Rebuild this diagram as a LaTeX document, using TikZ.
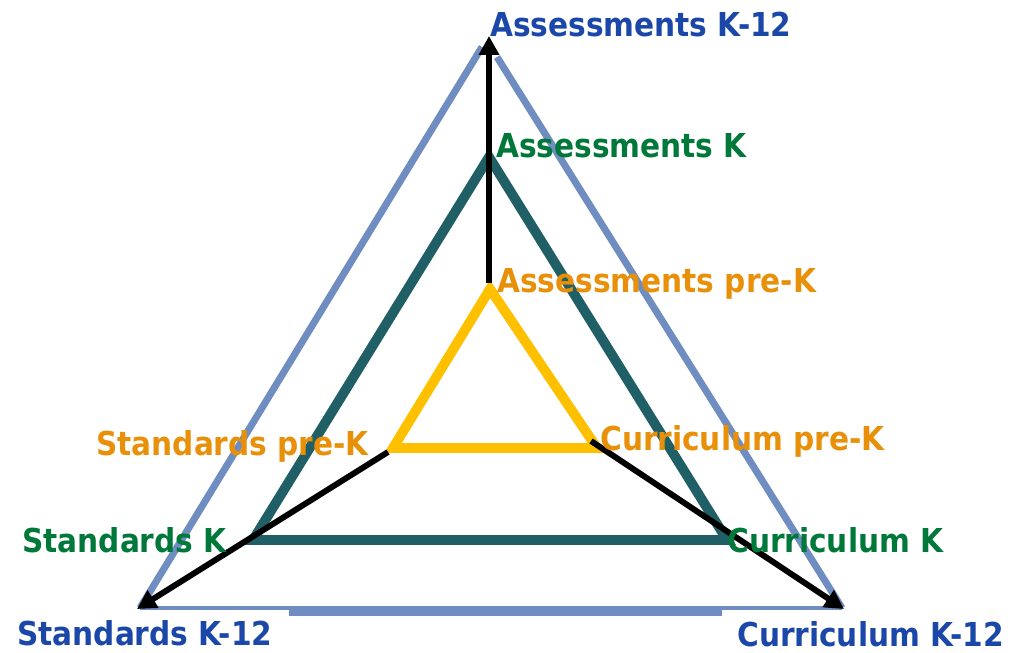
\documentclass[tikz,border=0pt]{standalone}
\usepackage{fontspec}
\setmainfont{DejaVu Sans Condensed}
\usetikzlibrary{arrows.meta}
\definecolor{outerblue}{HTML}{6F8DC0}
\definecolor{midteal}{HTML}{215F66}
\definecolor{inneryellow}{HTML}{FFC000}
\definecolor{textblue}{HTML}{1A47A8}
\definecolor{textgreen}{HTML}{00783A}
\definecolor{textorange}{HTML}{E8900A}
\begin{document}
\begin{tikzpicture}
[x=0.025cm,y=-0.025cm,
  outerdecorate/.style={draw=outerblue,line width=5pt},
  middecorate/.style={draw=midteal,line width=7pt,line join=miter},
  innerdecorate/.style={draw=inneryellow,line width=7pt,line join=miter},
  arrowdecorate/.style={-{Triangle[length=13.5pt,width=14pt]},line width=4.2pt,black},
  labeldecorate/.style={anchor=base west,inner sep=0pt,font=\fontsize{23.4pt}{27pt}\selectfont\bfseries}]
\useasboundingbox (0,0) rectangle (1011,652);
% corners of the triangles
\coordinate (o0l) at (482,47);
\coordinate (o0r) at (497,57);
\coordinate (o1) at (140,608);
\coordinate (o2) at (842,608);
\coordinate (m0) at (489,157);
\coordinate (m1) at (253,540);
\coordinate (m2) at (727,540);
\coordinate (i0) at (490,289);
\coordinate (i1) at (393,448);
\coordinate (i2) at (597,448);
% triangles
\draw[outerdecorate] (o0l) -- (o1);
\draw[outerdecorate] (o2) -- (o0r);
\draw[outerdecorate,line width=3pt] (o1) -- (o2);
\draw[outerdecorate,line width=6.6pt] (289,611.3) -- (722,611.3);
\draw[middecorate] (m0) -- (m1) -- (m2) -- cycle;
\draw[innerdecorate] (i0) -- (i1) -- (i2) -- cycle;
% arrows
\coordinate (a0) at (489,283);
\coordinate (a1) at (388,452);
\coordinate (a2) at (591,441);
\coordinate (t0) at (489,36);
\coordinate (t1) at (137,609);
\coordinate (t2) at (844,609);
\draw[arrowdecorate] (a0) -- (t0);
\draw[arrowdecorate] (a1) -- (t1);
\draw[arrowdecorate] (a2) -- (t2);
% labels
\node (aK12) at (490,36) [labeldecorate,textblue] {Assessments K-12};
\node (aK) at (496,157) [labeldecorate,textgreen] {Assessments K};
\node (apK) at (497,292) [labeldecorate,textorange] {Assessments pre-K};
\node (spK) at (96,455) [labeldecorate,textorange] {Standards pre-K};
\node (cpK) at (600,450) [labeldecorate,textorange] {Curriculum pre-K};
\node (sK) at (22,552) [labeldecorate,textgreen] {Standards K};
\node (cK) at (727,552) [labeldecorate,textgreen] {Curriculum K};
\node (sK12) at (17,645) [labeldecorate,textblue] {Standards K-12};
\node (cK12) at (737,646) [labeldecorate,textblue] {Curriculum K-12};
\end{tikzpicture}
\end{document}
